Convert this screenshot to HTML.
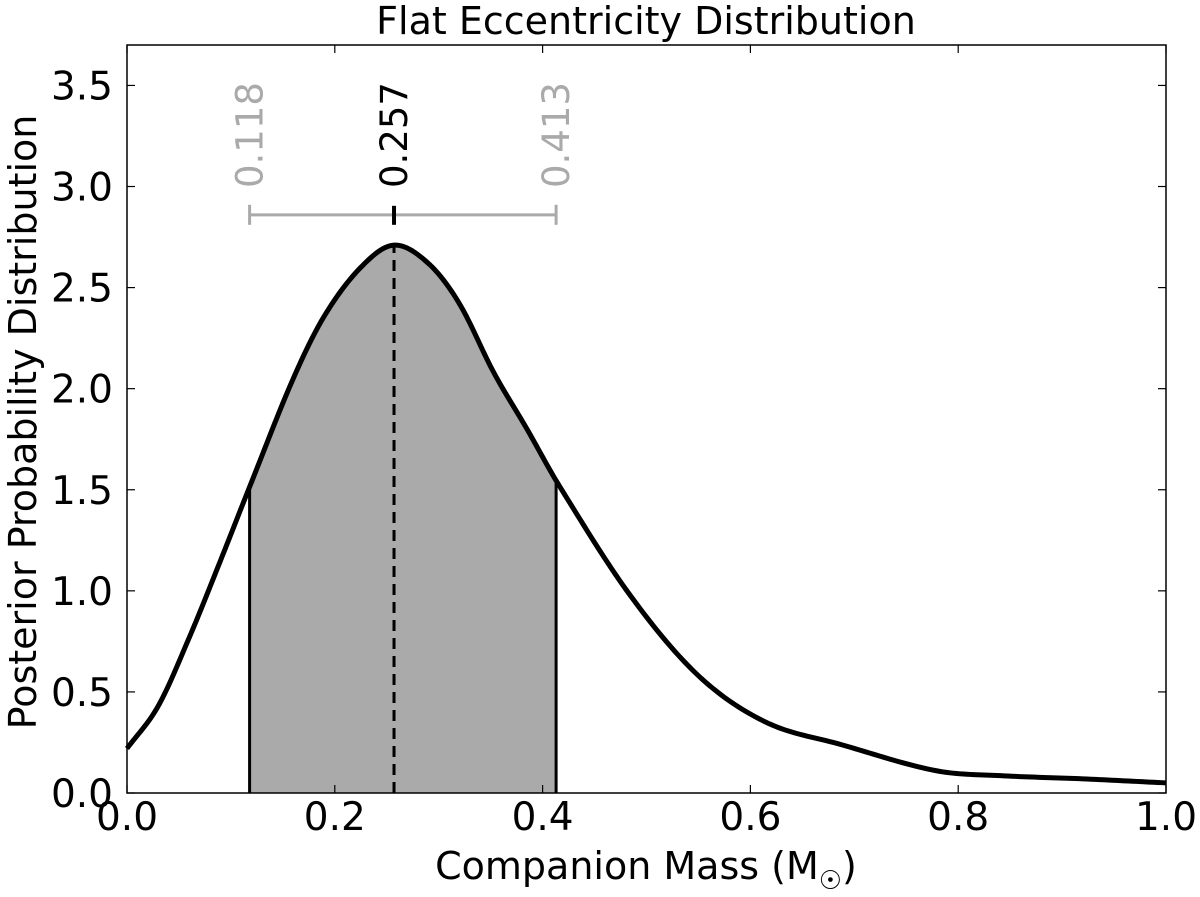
<!DOCTYPE html>
<html><head><meta charset="utf-8">
<style>
html,body{margin:0;padding:0;background:#fff;}
svg{display:block;font-family:"DejaVu Sans","Liberation Sans",sans-serif;}
</style></head>
<body>
<svg id="chart" width="1200" height="897" viewBox="0 0 1200 897" xmlns="http://www.w3.org/2000/svg">
<g id="plot"></g>
</svg>
<script>
const massValues = [0, 0.03, 0.06, 0.09, 0.12, 0.16, 0.19, 0.225, 0.257, 0.29, 0.32, 0.353, 0.385, 0.416, 0.484, 0.55, 0.615, 0.687, 0.779, 0.844, 0.92, 1.0];
const densityValues = [0.22, 0.43, 0.77, 1.15, 1.54, 2.05, 2.36, 2.60, 2.71, 2.62, 2.42, 2.08, 1.80, 1.52, 0.98, 0.58, 0.35, 0.24, 0.11, 0.085, 0.07, 0.05];
const xTicks = [0, 0.2, 0.4, 0.6, 0.8, 1.0];
const xTickLabels = ["0.0", "0.2", "0.4", "0.6", "0.8", "1.0"];
const yTicks = [0, 0.5, 1.0, 1.5, 2.0, 2.5, 3.0, 3.5];
const yTickLabels = ["0.0", "0.5", "1.0", "1.5", "2.0", "2.5", "3.0", "3.5"];
const intervalValues = [0.118, 0.257, 0.413];
const intervalLabels = ["0.118", "0.257", "0.413"];
const errorBarLevel = [2.86];

const L = 127, R = 1166, T = 45, B = 793, YMAX = 3.7;
const sx = v => L + (R - L) * v;
const sy = v => B - (B - T) * v / YMAX;
const NS = "http://www.w3.org/2000/svg";
const svg = document.getElementById('chart');
function mk(tag, attrs, parent) {
  const e = document.createElementNS(NS, tag);
  for (const k in attrs) e.setAttribute(k, attrs[k]);
  (parent || svg).appendChild(e);
  return e;
}
// cubic Hermite with finite-difference tangents (handles non-uniform spacing)
function dense() {
  const out = [];
  const n = massValues.length;
  const m = massValues.map((x, i) => {
    if (i === 0) return (densityValues[1] - densityValues[0]) / (massValues[1] - massValues[0]);
    if (i === n - 1) return (densityValues[n-1] - densityValues[n-2]) / (massValues[n-1] - massValues[n-2]);
    return (densityValues[i+1] - densityValues[i-1]) / (massValues[i+1] - massValues[i-1]);
  });
  for (let i = 0; i < n - 1; i++) {
    const h = massValues[i+1] - massValues[i];
    for (let s = 0; s < 20; s++) {
      const t = s / 20, t2 = t*t, t3 = t2*t;
      const y = (2*t3-3*t2+1)*densityValues[i] + (t3-2*t2+t)*h*m[i] + (-2*t3+3*t2)*densityValues[i+1] + (t3-t2)*h*m[i+1];
      out.push([massValues[i] + t*h, y]);
    }
  }
  out.push([massValues[n-1], densityValues[n-1]]);
  return out;
}
const pts = dense();
function yAt(x) {
  for (let i = 0; i < pts.length - 1; i++) {
    if (pts[i][0] <= x && pts[i+1][0] >= x) {
      const f = (x - pts[i][0]) / (pts[i+1][0] - pts[i][0] || 1);
      return pts[i][1] + f * (pts[i+1][1] - pts[i][1]);
    }
  }
  return 0;
}
const lo = intervalValues[0], med = intervalValues[1], hi = intervalValues[2];
let fd = `M${sx(lo)},${sy(0)} L${sx(lo)},${sy(yAt(lo))}`;
pts.forEach(p => { if (p[0] > lo && p[0] < hi) fd += ` L${sx(p[0])},${sy(p[1])}`; });
fd += ` L${sx(hi)},${sy(yAt(hi))} L${sx(hi)},${sy(0)} Z`;
const fill = mk('path', {d: fd, fill: '#aaaaaa', stroke: 'none'});


[lo, hi].forEach((v, i) => {
  const l = mk('line', {x1: sx(v), x2: sx(v), y1: sy(0), y2: sy(yAt(v)), stroke: '#000', 'stroke-width': 3});
  
  
});
const md = mk('line', {x1: sx(med), x2: sx(med), y1: sy(0), y2: sy(yAt(med)), stroke: '#000', 'stroke-width': 3, 'stroke-dasharray': '11,7'});


const cd = pts.map((p, i) => (i ? 'L' : 'M') + sx(p[0]).toFixed(2) + ',' + sy(p[1]).toFixed(2)).join(' ');
const curve = mk('path', {d: cd, fill: 'none', stroke: '#000', 'stroke-width': 5, 'stroke-linejoin': 'round'});


const ey = sy(errorBarLevel[0]);
const eb = mk('line', {x1: sx(lo), x2: sx(hi), y1: ey, y2: ey, stroke: '#aaaaaa', 'stroke-width': 3});


[lo, hi].forEach((v, i) => {
  const c = mk('line', {x1: sx(v), x2: sx(v), y1: ey - 10, y2: ey + 10, stroke: '#aaaaaa', 'stroke-width': 3});
  
  
});
const mt = mk('line', {x1: sx(med), x2: sx(med), y1: ey - 9, y2: ey + 10, stroke: '#000', 'stroke-width': 4});


intervalValues.forEach((v, i) => {
  const x = sx(v) + 13, y = 188;
  const t = mk('text', {x: x, y: y, 'font-size': 37, fill: i === 1 ? '#000' : '#aaaaaa', transform: `rotate(-90 ${x} ${y})`});
  t.textContent = intervalLabels[i];
  
  
});
const fr = mk('rect', {x: L, y: T, width: R - L, height: B - T, fill: 'none', stroke: '#000', 'stroke-width': 1.5});


xTicks.forEach((v, i) => {
  const x = sx(v);
  mk('line', {x1: x, x2: x, y1: B, y2: B - 8, stroke: '#000', 'stroke-width': 1.2});
  mk('line', {x1: x, x2: x, y1: T, y2: T + 8, stroke: '#000', 'stroke-width': 1.2});
  const t = mk('text', {x: x, y: B + 37, 'font-size': 39, 'text-anchor': 'middle', fill: '#000'});
  t.textContent = xTickLabels[i];
  
  
});
yTicks.forEach((v, i) => {
  const y = sy(v);
  mk('line', {x1: L, x2: L + 8, y1: y, y2: y, stroke: '#000', 'stroke-width': 1.2});
  mk('line', {x1: R, x2: R - 8, y1: y, y2: y, stroke: '#000', 'stroke-width': 1.2});
  const t = mk('text', {x: L - 14, y: y + 14, 'font-size': 39, 'text-anchor': 'end', fill: '#000'});
  t.textContent = yTickLabels[i];
  
  
});
</script>
<svg style="position:absolute;left:0;top:0" width="1200" height="897">
<text x="646" y="34" font-size="38" text-anchor="middle" font-family="DejaVu Sans, Liberation Sans, sans-serif">Flat Eccentricity Distribution</text>
<text x="646" y="879" font-size="38" text-anchor="middle" font-family="DejaVu Sans, Liberation Sans, sans-serif">Companion Mass (M<tspan font-size="26" dy="10">☉</tspan><tspan dy="-10">)</tspan></text>
<text x="36" y="422" font-size="38" text-anchor="middle" transform="rotate(-90 36 422)" font-family="DejaVu Sans, Liberation Sans, sans-serif">Posterior Probability Distribution</text>
</svg>
</body></html>
